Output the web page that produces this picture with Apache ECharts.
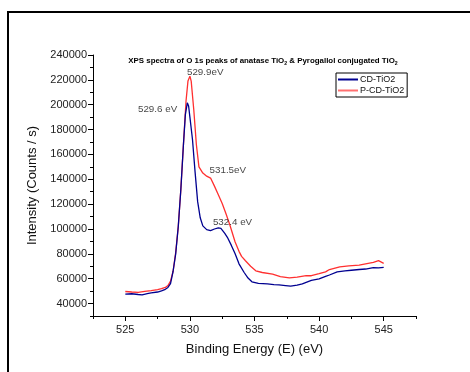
<!DOCTYPE html>
<html><head><meta charset="utf-8">
<script src="https://cdn.jsdelivr.net/npm/echarts@6/dist/echarts.min.js"></script>
<style>html,body{margin:0;padding:0;background:#fff}#c{width:470px;height:372px}</style>
</head><body><div id="c"></div>
<script>
var xMajorTicks = [525, 530, 535, 540, 545];
var xMinorTicks = [522.5, 527.5, 532.5, 537.5, 542.5, 547.5];
var yMajorTicks = [40000, 60000, 80000, 100000, 120000, 140000, 160000, 180000, 200000, 220000, 240000];
var yMinorTicks = [30000, 50000, 70000, 90000, 110000, 130000, 150000, 170000, 190000, 210000, 230000];

var energyCD = [525.0, 525.5, 526.0, 526.3, 526.7, 527.0, 527.5, 527.8, 528.1, 528.3, 528.5, 528.7, 528.9, 529.1, 529.3, 529.5, 529.65, 529.8, 529.9, 530.0, 530.2, 530.4, 530.6, 530.8, 531.0, 531.3, 531.6, 531.9, 532.2, 532.4, 532.7, 532.9, 533.2, 533.5, 533.8, 534.2, 534.5, 534.8, 535.3, 536.0, 536.5, 536.9, 537.4, 537.8, 538.3, 538.7, 539.0, 539.4, 540.0, 540.5, 540.8, 541.4, 542.0, 542.5, 543.1, 543.6, 544.2, 544.6, 545.0];
var intensityCD = [47600, 47900, 47300, 47000, 48000, 48600, 49300, 50300, 51500, 53000, 56000, 66000, 80000, 102000, 132000, 168000, 192000, 201500, 199000, 190000, 172000, 146000, 122000, 109000, 102500, 99500, 98700, 100000, 101000, 100500, 96500, 93300, 87000, 80000, 72000, 65000, 60500, 57500, 56200, 55800, 55300, 55100, 54500, 54000, 54800, 55800, 57000, 58600, 59800, 61800, 63000, 65500, 66300, 66800, 67400, 67800, 69000, 68700, 69100];

var energyPCD = [525.0, 525.5, 526.0, 526.5, 527.0, 527.5, 527.8, 528.1, 528.3, 528.5, 528.7, 528.9, 529.1, 529.3, 529.5, 529.7, 529.85, 530.0, 530.1, 530.3, 530.5, 530.7, 531.0, 531.3, 531.6, 531.9, 532.2, 532.5, 532.8, 533.1, 533.5, 533.8, 534.0, 534.3, 534.7, 535.1, 535.6, 536.4, 537.0, 537.7, 538.3, 539.0, 539.4, 540.0, 540.5, 540.8, 541.6, 542.3, 543.1, 543.6, 544.2, 544.6, 545.0];
var intensityPCD = [49700, 49300, 49000, 49800, 50500, 51300, 52000, 53000, 54500, 58000, 66000, 81000, 102000, 132000, 168000, 203000, 219000, 223000, 219000, 196000, 168000, 150000, 145000, 142500, 141000, 134500, 127500, 120500, 112000, 103000, 89500, 82000, 78000, 74500, 70000, 66400, 65000, 63700, 61600, 60600, 61200, 62400, 62400, 64000, 65500, 67400, 69600, 70300, 71000, 72000, 73100, 74500, 72400];

var peakLabels = ['529.9eV', '529.6 eV', '531.5eV', '532.4 eV'];
var peakLabelCoords = [[529.77, 225700], [525.98, 196400], [531.52, 147100], [531.78, 105200]];

var seriesNames = ['CD-TiO2', 'P-CD-TiO2'];

function zip(a, b) { return a.map(function (v, i) { return [v, b[i]]; }); }

var chart = echarts.init(document.getElementById('c'), null, {renderer: 'canvas'});
var font = 'Liberation Sans, Arial, sans-serif';
var axisCommon = {
  type: 'value',
  splitLine: {show: false},
  axisLine: {show: true, onZero: false, lineStyle: {color: '#000', width: 1}}
};
chart.setOption({
  animation: false,
  backgroundColor: '#fff',
  grid: {left: 93, right: 54, top: 55, bottom: 56, containLabel: false},
  legend: {
    data: [
      {name: seriesNames[0], itemStyle: {color: '#000090'}},
      {name: seriesNames[1], itemStyle: {color: '#ff7070'}}
    ],
    orient: 'vertical', left: 336, top: 73,
    icon: 'rect', itemWidth: 20, itemHeight: 2, itemGap: 2,
    padding: [2, 3, 2, 2],
    borderColor: '#000', borderWidth: 1,
    textStyle: {fontSize: 9, fontFamily: font, color: '#111', padding: [0, 0, 0, -3]}
  },
  xAxis: [
    Object.assign({}, axisCommon, {
      min: 522.5, max: 547.5,
      name: 'Binding Energy (E) (eV)', nameLocation: 'middle', nameGap: 27,
      nameTextStyle: {fontSize: 13, fontFamily: font, color: '#111'},
      axisTick: {show: true, inside: false, length: 5, customValues: xMajorTicks, lineStyle: {color: '#000'}},
      axisLabel: {show: true, margin: 8, fontSize: 11, fontFamily: font, color: '#222', customValues: xMajorTicks}
    }),
    Object.assign({}, axisCommon, {
      min: 522.5, max: 547.5, position: 'bottom',
      axisLine: {show: false},
      axisTick: {show: true, length: 3, customValues: xMinorTicks, lineStyle: {color: '#000'}},
      axisLabel: {show: false}
    })
  ],
  yAxis: [
    Object.assign({}, axisCommon, {
      min: 30000, max: 240000,
      name: 'Intensity (Counts / s)', nameLocation: 'middle', nameGap: 46, nameRotate: 90,
      nameTextStyle: {fontSize: 13, fontFamily: font, color: '#111'},
      axisTick: {show: true, inside: false, length: 5, customValues: yMajorTicks, lineStyle: {color: '#000'}},
      axisLabel: {show: true, margin: 6, fontSize: 11, fontFamily: font, color: '#222', customValues: yMajorTicks,
        formatter: function (v) { return String(v); }}
    }),
    Object.assign({}, axisCommon, {
      min: 30000, max: 240000, position: 'left',
      axisLine: {show: false},
      axisTick: {show: true, length: 3, customValues: yMinorTicks, lineStyle: {color: '#000'}},
      axisLabel: {show: false}
    })
  ],
  series: [
    {
      name: seriesNames[0], type: 'line', showSymbol: false, symbol: 'none',
      data: zip(energyCD, intensityCD),
      lineStyle: {color: '#000090', width: 1.3}, itemStyle: {color: '#000090'}, z: 3
    },
    {
      name: seriesNames[1], type: 'line', showSymbol: false, symbol: 'none',
      data: zip(energyPCD, intensityPCD),
      lineStyle: {color: '#ff3030', width: 1.3}, itemStyle: {color: '#ff3030'}, z: 2
    },
    {
      name: 'labels', type: 'scatter', symbolSize: 0, silent: true,
      data: peakLabelCoords.map(function (c, i) { return {value: c, label: {formatter: peakLabels[i]}}; }),
      label: {show: true, position: 'right', distance: 0, fontSize: 9.8, fontFamily: font, color: '#111'}
    }
  ],
  graphic: [
    {
      type: 'rect', shape: {x: 8, y: 12, width: 480, height: 400},
      style: {fill: 'none', stroke: '#000', lineWidth: 2}, silent: true
    },
    {
      type: 'text', x: 263, y: 61,
      style: {
        text: '{t|XPS spectra of O 1s peaks of anatase TiO}{s|2}{t| & Pyrogallol conjugated TiO}{s|2}',
        align: 'center', verticalAlign: 'middle',
        rich: {
          t: {fontSize: 7.9, fontWeight: 'bold', fontFamily: font, fill: '#000', lineHeight: 10, verticalAlign: 'middle'},
          s: {fontSize: 5.2, fontWeight: 'bold', fontFamily: font, fill: '#000', lineHeight: 10, padding: [5, 0, 0, 0]}
        }
      }
    }
  ]
});
</script></body></html>
